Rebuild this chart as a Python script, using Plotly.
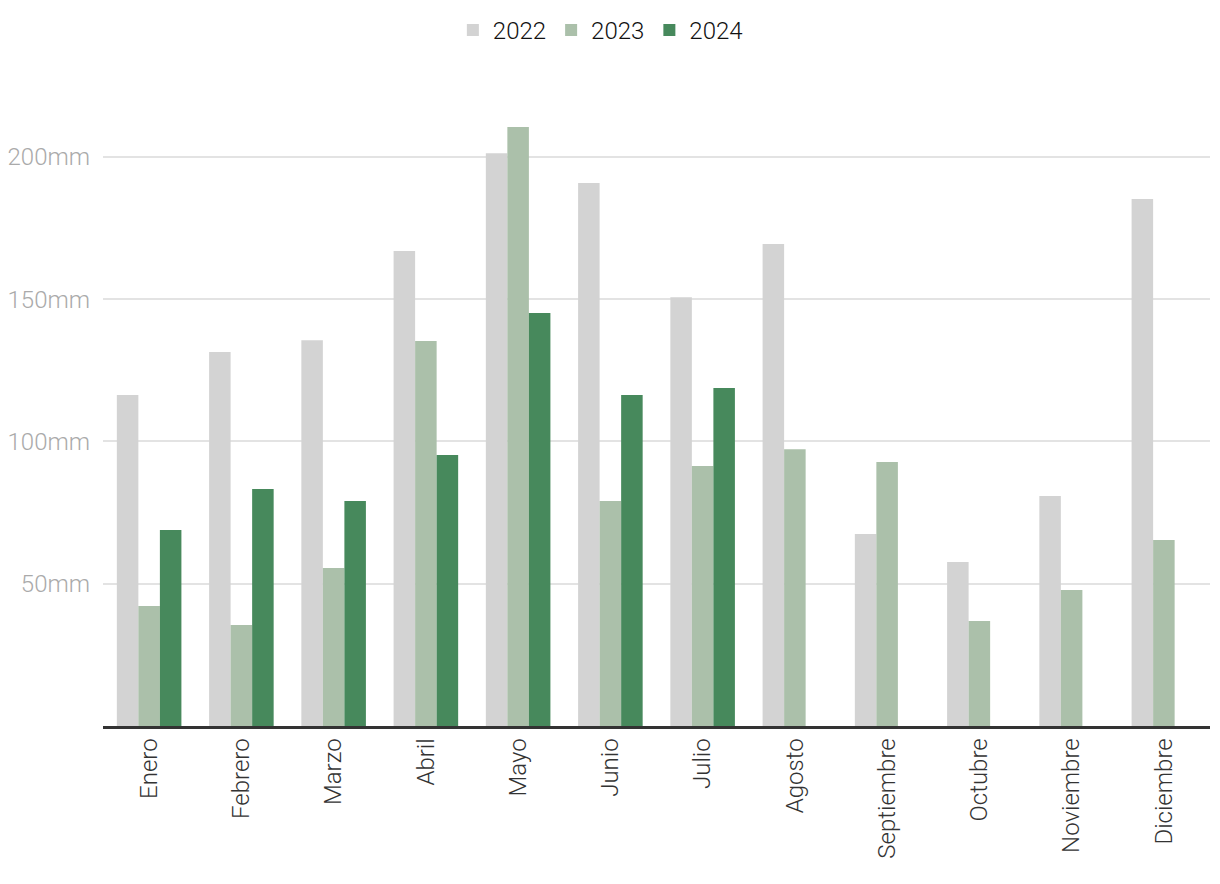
import plotly.graph_objects as go

months = ["Enero", "Febrero", "Marzo", "Abril", "Mayo", "Junio", "Julio",
          "Agosto", "Septiembre", "Octubre", "Noviembre", "Diciembre"]
v2022 = [116.3, 131.4, 135.6, 166.9, 201.3, 190.8, 150.7, 169.4, 67.5, 57.6, 80.8, 185.2]
v2023 = [42.2, 35.5, 55.5, 135.3, 210.5, 79.1, 91.4, 97.3, 92.8, 36.9, 47.8, 65.4]
v2024 = [68.9, 83.3, 79.1, 95.2, 145.1, 116.3, 118.8, None, None, None, None, None]
tick_vals = [50, 100, 150, 200]
tick_text = ["50mm", "100mm", "150mm", "200mm"]

fig = go.Figure()
fig.add_bar(x=months, y=v2022, name="2022", marker_color="#d3d3d3", marker_line_width=0)
fig.add_bar(x=months, y=v2023, name="2023", marker_color="#abc0aa", marker_line_width=0)
fig.add_bar(x=months, y=v2024, name="2024", marker_color="#47895c", marker_line_width=0)

fig.update_layout(
    width=1204, height=868,
    barmode="group", bargap=0.3, bargroupgap=0,
    plot_bgcolor="white", paper_bgcolor="white",
    margin=dict(l=95, r=2, t=92, b=150, autoexpand=False),
    font=dict(family="Roboto", size=24, color="#333", weight=300),
    legend=dict(orientation="h", x=0.492, xanchor="center", xref="container",
                y=1.147, yanchor="top", yref="paper",
                font=dict(size=24, color="#111", weight=300), traceorder="normal"),
    showlegend=True,
)
fig.update_xaxes(showline=True, linecolor="#333", linewidth=2.5, tickangle=-90,
                 ticks="", tickfont=dict(size=24, color="#333", weight=300), showgrid=False,
                 automargin=False)
fig.update_yaxes(range=[0, 220], tickvals=tick_vals, ticktext=tick_text,
                 showgrid=True, gridcolor="#e3e3e3", gridwidth=1.5, zeroline=False,
                 tickfont=dict(size=24, color="#aaa", weight=300), ticks="", showline=False,
                 ticklabelstandoff=12, automargin=False)

fig.write_html("out.html")
